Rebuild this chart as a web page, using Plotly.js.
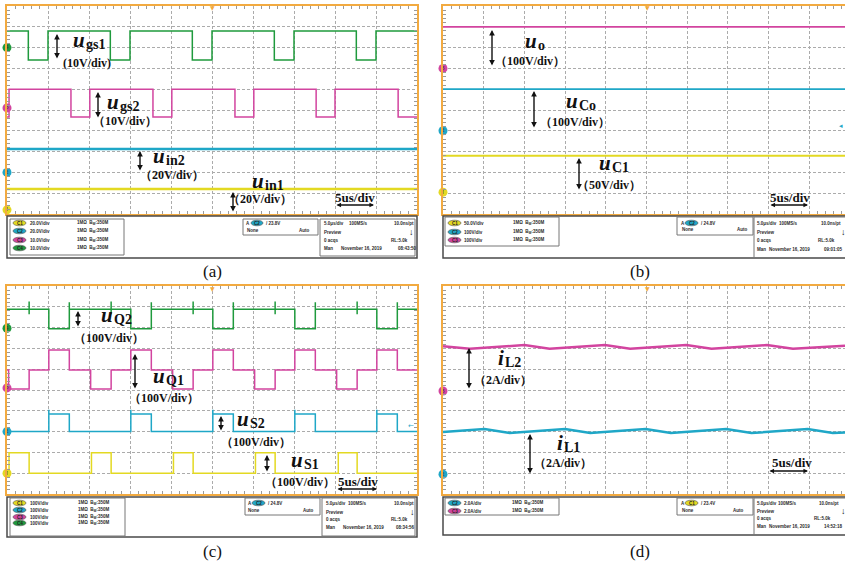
<!DOCTYPE html>
<html><head><meta charset="utf-8">
<script src="https://cdn.plot.ly/plotly-3.0.1.min.js"></script>
<style>html,body{margin:0;padding:0;background:#fff;}#chart{width:845px;height:566px;}</style>
</head><body><div id="chart"></div>
<script>
// ===== DATA (time in us, amplitude in screen divisions from the bottom) =====
// panel (a)
const a_ugs1_t = [0, 2.6, 5.0, 12.6, 15.0, 22.6, 25.0, 32.6, 35.0, 42.6, 45.0, 50];
const a_ugs1_v = [8.8, 7.4, 8.8, 7.4, 8.8, 7.4, 8.8, 7.4, 8.8, 7.4, 8.8, 8.8];
const a_ugs2_t = [0, 0.25, 7.8, 10.1, 17.8, 20.1, 27.8, 30.1, 37.7, 40.0, 47.7, 50];
const a_ugs2_v = [4.66, 6.0, 4.66, 6.0, 4.66, 6.0, 4.66, 6.0, 4.66, 6.0, 4.66, 4.66];
const a_uin2_t = [0, 50];
const a_uin2_v = [3.12, 3.12];
const a_uin1_t = [0, 50];
const a_uin1_v = [1.2, 1.2];
const a_gnd = [8.0, 5.1, 2.0, 0.2];
const a_scales = ['20.0V/div', '20.0V/div', '10.0V/div', '10.0V/div'];
// panel (b)
const b_uo_t = [0, 49.4];
const b_uo_v = [9.0, 9.0];
const b_uCo_t = [0, 49.4];
const b_uCo_v = [6.0, 6.0];
const b_uC1_t = [0, 49.4];
const b_uC1_v = [2.8, 2.8];
const b_gnd = [7.0, 4.0, 1.05];
const b_scales = ['50.0V/div', '100V/div', '100V/div'];
// panel (c)
const c_uQ2_t = [0, 2.7, 2.7, 2.7, 5.1, 7.6, 7.6, 12.7, 12.7, 12.7, 15.1, 17.6, 17.6, 22.7, 22.7, 22.7, 25.1, 27.6, 27.6, 32.7, 32.7, 32.7, 35.1, 37.6, 37.6, 42.7, 42.7, 42.7, 45.1, 47.6, 47.6, 50];
const c_uQ2_v = [8.88, 9.25, 8.64, 8.88, 7.95, 9.22, 8.88, 9.25, 8.64, 8.88, 7.95, 9.22, 8.88, 9.25, 8.64, 8.88, 7.95, 9.22, 8.88, 9.25, 8.64, 8.88, 7.95, 9.22, 8.88, 9.25, 8.64, 8.88, 7.95, 9.22, 8.88, 8.88];
const c_uQ1_t = [0, 0.2, 2.7, 5.1, 7.6, 10.2, 12.7, 15.1, 17.6, 20.2, 22.7, 25.1, 27.6, 30.2, 32.7, 35.1, 37.6, 40.2, 42.7, 45.1, 47.6, 50];
const c_uQ1_v = [5.96, 5.05, 5.96, 6.92, 5.96, 5.05, 5.96, 6.92, 5.96, 5.05, 5.96, 6.92, 5.96, 5.05, 5.96, 6.92, 5.96, 5.05, 5.96, 6.92, 5.96, 5.96];
const c_uS2_t = [0, 5.1, 5.1, 7.6, 15.1, 15.1, 17.6, 25.1, 25.1, 27.6, 35.1, 35.1, 37.6, 45.1, 45.1, 47.6, 50];
const c_uS2_v = [3.0, 4.05, 3.85, 3.0, 4.05, 3.85, 3.0, 4.05, 3.85, 3.0, 4.05, 3.85, 3.0, 4.05, 3.85, 3.0, 3.0];
const c_uS1_t = [0, 0.25, 2.7, 10.3, 12.7, 20.3, 22.7, 30.3, 32.7, 40.4, 42.7, 50];
const c_uS1_v = [1.0, 1.98, 1.0, 1.98, 1.0, 1.98, 1.0, 1.98, 1.0, 1.98, 1.0, 1.0];
const c_gnd = [7.97, 5.1, 3.0, 1.0];
const c_scales = ['100V/div', '100V/div', '100V/div', '100V/div'];
// panel (d)
const d_iL2_t = [0, 3.3, 10.0, 13.1, 19.9, 23.0, 29.9, 33.0, 39.8, 43.0, 49.4];
const d_iL2_v = [7.1, 6.98, 7.16, 6.98, 7.16, 6.98, 7.16, 6.98, 7.16, 6.98, 7.13];
const d_iL1_t = [0, 5.1, 8.2, 15.0, 18.1, 24.9, 28.0, 34.8, 37.9, 44.8, 47.9, 49.4];
const d_iL1_v = [2.98, 3.12, 2.93, 3.12, 2.93, 3.12, 2.93, 3.12, 2.93, 3.12, 2.93, 2.96];
const d_gnd = [4.95, 0.95];
const d_scales = ['2.0A/div', '2.0A/div'];

// ===== STYLE / LAYOUT =====
const W = 845, H = 566;
const C = {green:'#1f9a3d', magenta:'#d2449f', cyan:'#1fa7c7', yellow:'#e3d922', orange:'#f2aa40'};
const PX = x => x / W, PY = y => 1 - y / H;

function xa(x0, x1, r1, anchor) {
  return {domain:[PX(x0), Math.min(1, PX(x1))], range:[0, r1], anchor, dtick:5, tick0:0,
    showgrid:true, gridcolor:'#ababab', griddash:'3px,2px', gridwidth:1, zeroline:false,
    showticklabels:false, ticks:'', showline:true, linecolor:C.orange, linewidth:2, mirror:'ticks',
    minor:{dtick:1, tick0:0, ticks:'inside', ticklen:3, tickcolor:'#9a9a9a', tickwidth:1, showgrid:false},
    fixedrange:true};
}
function ya(y0, y1, anchor, mirror) {
  return {domain:[PY(y1), PY(y0)], range:[0, 10], anchor, dtick:1, tick0:0,
    showgrid:true, gridcolor:'#ababab', griddash:'3px,2px', gridwidth:1, zeroline:false,
    showticklabels:false, ticks:'', showline:true, linecolor:C.orange, linewidth:2, mirror:mirror,
    minor:{dtick:0.2, tick0:0, ticks:'inside', ticklen:3, tickcolor:'#9a9a9a', tickwidth:1, showgrid:false},
    fixedrange:true};
}

function tr(t, v, ax, color, width, shape) {
  return {x:t, y:v, xaxis:'x'+ax, yaxis:'y'+ax, mode:'lines', line:{color, width, shape:shape||'hv'}, hoverinfo:'skip'};
}
function gnd(levels, ax, colors, nums) {
  return {x:levels.map(()=>0), y:levels, xaxis:'x'+ax, yaxis:'y'+ax, mode:'markers+text',
    marker:{size:9, color:colors, line:{width:0}}, text:nums, textposition:'middle center',
    textfont:{size:6, color:'#333'}, cliponaxis:false, hoverinfo:'skip'};
}

const data = [
  tr(a_ugs1_t, a_ugs1_v, '', C.green, 1.5),
  tr(a_ugs2_t, a_ugs2_v, '', C.magenta, 1.5),
  tr(a_uin2_t, a_uin2_v, '', C.cyan, 2.5),
  tr(a_uin1_t, a_uin1_v, '', C.yellow, 2.5),
  gnd(a_gnd, '', [C.green, C.magenta, C.cyan, C.yellow], ['4','3','2','1']),
  tr(b_uo_t, b_uo_v, '2', C.magenta, 1.8),
  tr(b_uCo_t, b_uCo_v, '2', C.cyan, 1.8),
  tr(b_uC1_t, b_uC1_v, '2', C.yellow, 2),
  gnd(b_gnd, '2', [C.magenta, C.cyan, C.yellow], ['3','2','1']),
  tr(c_uQ2_t, c_uQ2_v, '3', C.green, 1.5),
  tr(c_uQ1_t, c_uQ1_v, '3', C.magenta, 1.5),
  tr(c_uS2_t, c_uS2_v, '3', C.cyan, 1.5),
  tr(c_uS1_t, c_uS1_v, '3', C.yellow, 1.5),
  gnd(c_gnd, '3', [C.green, C.magenta, C.cyan, C.yellow], ['4','3','2','1']),
  tr(d_iL2_t, d_iL2_v, '4', C.magenta, 2.5, 'linear'),
  tr(d_iL1_t, d_iL1_v, '4', C.cyan, 2.5, 'linear'),
  gnd(d_gnd, '4', [C.magenta, C.cyan], ['3','2'])
];

const anns = [], shapes = [];
function txt(x, y, text, o) {
  o = o || {};
  const f = Object.assign({family:'Liberation Serif', size:12, color:'#111', weight:'bold'}, o.font || {});
  anns.push({xref:'paper', yref:'paper', x:PX(x), y:PY(y), text, showarrow:false,
    xanchor:o.xanchor||'left', yanchor:o.yanchor||'middle', font:f, borderpad:0});
}
// symbol (italic) + subscript, (x,y) = left / visual centre of the main letter
function lab(x, y, main, sub) {
  txt(x, y - 2, '<i>'+main+'</i>', {font:{size:21}});
  txt(x + (main === 'i' ? 7 : 13), y + 2.5, sub, {font:{size:14}});
}
// full-width bracket scale text: x = left of visible bracket
function scl(x, y, s) { txt(x - 8, y, '（' + s + '）'); }
function varrow(x, y0, y1) {
  anns.push({xref:'paper', yref:'paper', x:PX(x), y:PY(y0), ax:0, ay:(y1-y0), text:'', showarrow:true,
    arrowhead:2, startarrowhead:2, arrowside:'end+start', arrowsize:0.8, arrowwidth:1.4, arrowcolor:'#111',
    standoff:0, startstandoff:0});
}
function harrow(x0, x1, y) {
  anns.push({xref:'paper', yref:'paper', x:PX(x1), y:PY(y), ax:-(x1-x0), ay:0, text:'', showarrow:true,
    arrowhead:2, startarrowhead:2, arrowside:'end+start', arrowsize:0.7, arrowwidth:1.3, arrowcolor:'#111',
    standoff:0, startstandoff:0});
}
function rect(x0, y0, x1, y1, col, w) {
  shapes.push({type:'rect', xref:'paper', yref:'paper', x0:PX(x0), x1:PX(x1), y0:PY(y1), y1:PY(y0),
    line:{color:col, width:w}, fillcolor:'rgba(0,0,0,0)', layer:'above'});
}
function pill(x0, x1, y, color, label) {
  shapes.push({type:'circle', xref:'paper', yref:'paper', x0:PX(x0), x1:PX(x1), y0:PY(y+2.8), y1:PY(y-2.8),
    line:{color:'#555', width:0.6}, fillcolor:color, layer:'above'});
  txt((x0+x1)/2, y, label, {xanchor:'center', font:{family:'Liberation Sans', size:4.5, color:'#222'}});
}
function small(x, y, text, o) {
  o = o || {};
  txt(x, y, text, Object.assign({}, o, {font:Object.assign({family:'Liberation Sans', size:4.5, color:'#2a2a2a'}, o.font||{})}));
}

// ---- panel (a) labels ----
varrow(57, 34, 60); lab(72, 42, 'u', 'gs1'); txt(62, 63, '(10V/div)');
varrow(98, 92, 119); lab(106, 104, 'u', 'gs2'); scl(100, 121, '10V/div');
varrow(140, 151, 172); lab(152, 158, 'u', 'in2'); scl(147, 175, '20V/div');
varrow(233, 192, 213); lab(251, 183, 'u', 'in1'); scl(235, 199, '20V/div');
txt(334, 197, '5us/div', {font:{size:13}}); harrow(335, 374, 205);
// ---- panel (b) labels ----
varrow(492, 30, 67); lab(524, 43, 'u', 'o'); scl(502, 61, '100V/div');
varrow(534, 91, 129); lab(565, 103, 'u', 'Co'); scl(547, 122, '100V/div');
varrow(579, 158, 191); lab(598, 165, 'u', 'C1'); scl(584, 185, '50V/div');
txt(769, 197, '5us/div', {font:{size:13}}); harrow(769, 808, 205);
// ---- panel (c) labels ----
varrow(78, 311, 328); lab(100, 317, 'u', 'Q2'); scl(81, 338, '100V/div');
varrow(135, 354, 390); lab(152, 378, 'u', 'Q1'); scl(136, 398, '100V/div');
varrow(221, 416, 432); lab(236, 421, 'u', 'S2'); scl(228, 442, '100V/div');
varrow(267, 455, 473); lab(290, 462, 'u', 'S1'); scl(272, 482, '100V/div');
txt(337, 481, '5us/div', {font:{size:13}}); harrow(336, 377, 489);
// ---- panel (d) labels ----
varrow(469, 348, 390); lab(497, 360, 'i', 'L2'); scl(481, 380, '2A/div');
varrow(530, 434, 475); lab(556, 445, 'i', 'L1'); scl(541, 463, '2A/div');
txt(771, 462, '5us/div', {font:{size:13}}); harrow(768, 808, 471);

// trigger markers
[[212, 6], [647, 6], [212, 286], [647, 286]].forEach(p => txt(p[0], p[1]+2, '▼', {xanchor:'center', font:{family:'DejaVu Sans', size:6, color:C.orange}}));
txt(844, 126, '◂', {xanchor:'right', font:{family:'DejaVu Sans', size:7, color:C.cyan}});
txt(415, 426, '←', {xanchor:'right', font:{family:'DejaVu Sans', size:7, color:C.cyan, weight:'normal'}});

// ---- info bars ----
const BW = '1MΩ  B<sub>W</sub>:350M';
// (a)
rect(7, 216, 417, 258, '#4a4a4a', 1.5); rect(10, 219, 124, 255, '#777', 1); rect(243, 219, 318, 235, '#777', 1); rect(320, 219, 415, 256, '#777', 1);
[[223, C.yellow, 'C1'], [231, C.cyan, 'C2'], [240, C.magenta, 'C3'], [248, C.green, 'C4']].forEach((r, i) => {
  pill(13, 26, r[0], r[1], r[2]); small(29, r[0], a_scales[i]); small(76, r[0], BW); });
small(245, 223, 'A'); pill(251, 263, 223, C.cyan, 'C2'); small(265, 223, '/ 23.8V');
small(246, 230, 'None'); small(298, 230, 'Auto');
small(323, 223, '5.0μs/div'); small(348, 223, '100MS/s'); small(393, 223, '10.0ns/pt');
small(323, 232, 'Preview'); small(408, 232, '↓', {font:{size:9, color:'#111'}});
small(323, 240, '0 acqs'); small(390, 240, 'RL:5.0k');
small(323, 248, 'Man'); small(340, 248, 'November 16, 2019'); small(397, 248, '08:43:50');
// (b)
rect(443, 216, 852, 258, '#4a4a4a', 1.5); rect(445, 217, 559, 246, '#777', 1); rect(677, 217, 753, 235, '#777', 1); rect(754, 217, 852, 258, '#777', 1);
[[223, C.yellow, 'C1'], [232, C.cyan, 'C2'], [240, C.magenta, 'C3']].forEach((r, i) => {
  pill(448, 461, r[0], r[1], r[2]); small(463, r[0], b_scales[i]); small(512, r[0], BW); });
small(680, 223, 'A'); pill(685, 698, 223, C.cyan, 'C2'); small(700, 223, '/ 24.8V');
small(681, 229, 'None'); small(736, 229, 'Auto');
small(756, 223, '5.0μs/div'); small(778, 223, '100MS/s'); small(820, 223, '10.0ns/pt');
small(756, 232, 'Preview'); small(840, 232, '↓', {font:{size:9, color:'#111'}});
small(756, 241, '0 acqs'); small(817, 241, 'RL:5.0k');
small(756, 249, 'Man'); small(768, 249, 'November 16, 2019'); small(844, 249, '09:01:05', {xanchor:'right'});
// (c)
rect(7, 497, 417, 537, '#4a4a4a', 1.5); rect(10, 498, 125, 536, '#777', 1); rect(245, 498, 320, 515, '#777', 1); rect(322, 498, 415, 536, '#777', 1);
[[503, C.yellow, 'C1'], [510, C.cyan, 'C2'], [517, C.magenta, 'C3'], [523, C.green, 'C4']].forEach((r, i) => {
  pill(13, 26, r[0], r[1], r[2]); small(29, r[0], c_scales[i]); small(77, r[0], BW); });
small(247, 503, 'A'); pill(252, 265, 503, C.cyan, 'C2'); small(267, 503, '/ 24.8V');
small(247, 510, 'None'); small(302, 510, 'Auto');
small(325, 503, '5.0μs/div'); small(347, 503, '100MS/s'); small(393, 503, '10.0ns/pt');
small(325, 512, 'Preview'); small(409, 512, '↓', {font:{size:9, color:'#111'}});
small(325, 519, '0 acqs'); small(390, 519, 'RL:5.0k');
small(325, 527, 'Man'); small(342, 527, 'November 16, 2019'); small(395, 527, '08:34:56');
// (d)
rect(443, 497, 852, 535, '#4a4a4a', 1.5); rect(445, 498, 559, 515, '#777', 1); rect(677, 498, 753, 515, '#777', 1); rect(754, 498, 852, 535, '#777', 1);
[[503, C.cyan, 'C2'], [511, C.magenta, 'C3']].forEach((r, i) => {
  pill(448, 461, r[0], r[1], r[2]); small(463, r[0], d_scales[i]); small(511, r[0], BW); });
small(680, 503, 'A'); pill(685, 698, 503, C.yellow, 'C1'); small(700, 503, '/ 23.4V');
small(681, 510, 'None'); small(732, 510, 'Auto');
small(756, 503, '5.0μs/div'); small(777, 503, '100MS/s'); small(818, 503, '10.0ns/pt');
small(756, 511, 'Preview'); small(840, 511, '↓', {font:{size:9, color:'#111'}});
small(756, 518, '0 acqs'); small(813, 518, 'RL:5.0k');
small(756, 526, 'Man'); small(768, 526, 'November 16, 2019'); small(844, 526, '14:52:18', {xanchor:'right'});

// captions
[['(a)', 212, 271], ['(b)', 640, 271], ['(c)', 212, 551], ['(d)', 640, 551]].forEach(c =>
  txt(c[1], c[2], c[0], {xanchor:'center', font:{size:17, weight:'normal', color:'#111'}}));

const layout = {
  width: W, height: H, margin:{l:0, r:0, t:0, b:0}, paper_bgcolor:'#fff', plot_bgcolor:'#fff', showlegend:false,
  xaxis: xa(7, 417, 50, 'y'), yaxis: ya(6, 214, 'x', 'ticks'),
  xaxis2: xa(443, 845, 49.4, 'y2'), yaxis2: ya(6, 214, 'x2', false),
  xaxis3: xa(7, 417, 50, 'y3'), yaxis3: ya(286, 494, 'x3', 'ticks'),
  xaxis4: xa(443, 845, 49.4, 'y4'), yaxis4: ya(286, 494, 'x4', false),
  annotations: anns, shapes: shapes
};
Plotly.newPlot('chart', data, layout, {staticPlot:true, displayModeBar:false});
</script></body></html>
